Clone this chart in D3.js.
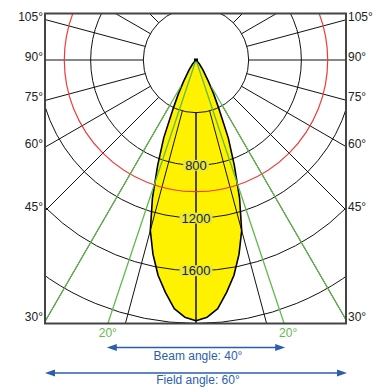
<!DOCTYPE html>
<html>
<head>
<meta charset="utf-8">
<script src="https://cdn.jsdelivr.net/npm/d3@7"></script>
<style>
  body { margin: 0; background: #fff; }
  svg { display: block; font-family: "Liberation Sans", Arial, sans-serif; }
</style>
</head>
<body>
<div id="chart"></div>
<script>
// intensity curve (cd), half-plane, mirrored left/right
var angles  = [0, 2.5, 5, 7.5, 10, 12.5, 15, 17.5, 20, 22.5, 25, 27.5, 30, 35, 40, 45, 50, 60, 70, 80, 90];
var candela = [1980, 1955, 1895, 1780, 1660, 1510, 1340, 1100, 850, 640, 420, 290, 190, 90, 40, 15, 5, 0, 0, 0, 0];

var ringValues  = [400, 800, 1200, 1600, 2000, 2400];
var ringLabels  = [800, 1200, 1600];
var spokeAngles = [0, 15, 30, 45, 60, 75, 90, 105, 120, 135, 150, 165, 180];
var sideLabels  = [30, 45, 60, 75, 90, 105];
var halfMax     = 1000;
var beamHalf    = 18.5, fieldHalf = 30;
var beamText    = "Beam angle: 40°", fieldText = "Field angle: 60°";
var beamTick    = "20°";

var W = 383, H = 387;
var cx = 196, cy = 60;
var box = {x0: 45, x1: 346, y0: 13.5, y1: 323.5};
var blue = "#2b5ead", green = "#62b84c";

var r = d3.scaleLinear().domain([0, 2000]).range([0, 263.4]);
var rad = function(a) { return a * Math.PI / 180; };
function pt(a, v, side) { return [cx + side * v * Math.sin(rad(a)), cy + v * Math.cos(rad(a))]; }

var svg = d3.select("#chart").append("svg").attr("width", W).attr("height", H);

svg.append("clipPath").attr("id", "clip").append("rect")
    .attr("x", box.x0).attr("y", box.y0)
    .attr("width", box.x1 - box.x0).attr("height", box.y1 - box.y0);

var g = svg.append("g").attr("clip-path", "url(#clip)");

// yellow distribution
var pts = [];
angles.slice().reverse().forEach(function(a, i) { pts.push(pt(a, r(candela[angles.length - 1 - i]), -1)); });
angles.forEach(function(a, i) { pts.push(pt(a, r(candela[i]), 1)); });
var line = d3.line();
g.append("path").attr("d", line(pts) + "Z").attr("fill", "#fff200").attr("stroke", "none");

// grid rings
g.selectAll("circle.ring").data(ringValues).enter().append("circle")
    .attr("cx", cx).attr("cy", cy).attr("r", function(d) { return r(d); })
    .attr("fill", "none").attr("stroke", "#111").attr("stroke-width", 1);

// spokes, both sides
spokeAngles.forEach(function(a) {
    [-1, 1].forEach(function(s) {
        var p0 = pt(a, r(400), s), p1 = pt(a, 600, s);
        g.append("line").attr("x1", p0[0]).attr("y1", p0[1]).attr("x2", p1[0]).attr("y2", p1[1])
            .attr("stroke", "#111").attr("stroke-width", 1);
    });
});

// half max ring
g.append("circle").attr("cx", cx).attr("cy", cy).attr("r", r(halfMax))
    .attr("fill", "none").attr("stroke", "#f03a3a").attr("stroke-width", 1.2);

// outline
g.append("path").attr("d", line(pts) + "Z").attr("fill", "none")
    .attr("stroke", "#000").attr("stroke-width", 1.6).attr("stroke-linejoin", "round");

// beam / field lines
[[beamHalf, 0], [fieldHalf, 30]].forEach(function(b) {
    [-1, 1].forEach(function(s) {
        var p0 = pt(b[0], b[1], s), p1 = pt(b[0], 600, s);
        g.append("line").attr("x1", p0[0]).attr("y1", p0[1]).attr("x2", p1[0]).attr("y2", p1[1])
            .attr("stroke", green).attr("stroke-width", 1.3);
    });
});

// apex marker
svg.append("rect").attr("x", cx - 2).attr("y", cy - 1.5).attr("width", 4).attr("height", 3).attr("fill", "#000");

// ring labels
ringLabels.forEach(function(v) {
    var t = svg.append("text").attr("x", cx).attr("y", cy + r(v) + 4.5)
        .attr("text-anchor", "middle").attr("font-size", 13).attr("fill", "#222").text(v);
    var bb = t.node().getBBox();
    svg.insert("rect", "text").attr("x", bb.x - 2).attr("y", cy + r(v) - 5.5)
        .attr("width", bb.width + 4).attr("height", 11).attr("fill", "#e8e83a");
});

// box
svg.append("rect").attr("x", box.x0).attr("y", box.y0)
    .attr("width", box.x1 - box.x0).attr("height", box.y1 - box.y0)
    .attr("fill", "none").attr("stroke", "#444").attr("stroke-width", 2);

// side angle labels
sideLabels.forEach(function(a) {
    var yy = cy + (box.x1 - cx) / Math.tan(rad(a)) + 1;
    svg.append("text").attr("x", box.x0 - 2).attr("y", yy).attr("text-anchor", "end")
        .attr("font-size", 12).attr("fill", "#222").text(a + "°");
    svg.append("text").attr("x", box.x1 + 2).attr("y", yy).attr("text-anchor", "start")
        .attr("font-size", 12).attr("fill", "#222").text(a + "°");
});

// beam tick labels
[-1, 1].forEach(function(s) {
    var xb = cx + s * (box.y1 - cy) * Math.tan(rad(beamHalf));
    svg.append("text").attr("x", xb + (s > 0 ? 4 : 0)).attr("y", 337).attr("text-anchor", "middle")
        .attr("font-size", 12).attr("fill", green).text(beamTick);
});

// arrows
function arrow(x1, x2, y) {
    svg.append("line").attr("x1", x1 + 6).attr("x2", x2 - 6).attr("y1", y).attr("y2", y)
        .attr("stroke", blue).attr("stroke-width", 1.5);
    svg.append("path").attr("d", "M" + x1 + "," + y + "l10,-3.5v7z").attr("fill", blue);
    svg.append("path").attr("d", "M" + x2 + "," + y + "l-10,-3.5v7z").attr("fill", blue);
}
var bx = (box.y1 - cy) * Math.tan(rad(beamHalf));
arrow(cx - bx - 1, cx + bx + 1, 347.5);
arrow(box.x0, box.x1 + 1, 373);
svg.append("text").attr("x", cx + 2).attr("y", 359.5).attr("text-anchor", "middle")
    .attr("font-size", 12).attr("fill", blue).text(beamText);
svg.append("text").attr("x", cx + 2).attr("y", 384).attr("text-anchor", "middle")
    .attr("font-size", 12).attr("fill", blue).text(fieldText);
</script>
</body>
</html>
